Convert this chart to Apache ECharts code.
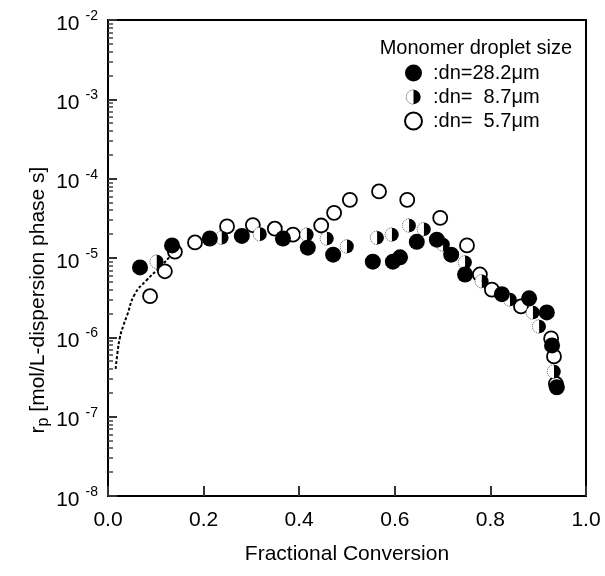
<!DOCTYPE html>
<html>
<head>
<meta charset="utf-8">
<script src="https://cdn.jsdelivr.net/npm/echarts@6/dist/echarts.min.js"></script>
<style>
  html, body { margin: 0; padding: 0; background: #fff; }
  #chart { width: 605px; height: 576px; }
</style>
</head>
<body>
<div id="chart"></div>
<script>
// data: fractional conversion vs rp
const filledX = [0.067, 0.134, 0.213, 0.280, 0.366, 0.418, 0.471, 0.554, 0.596, 0.611, 0.646, 0.688, 0.718, 0.747, 0.824, 0.881, 0.918, 0.929, 0.939];
const filledY = [7.6e-6, 1.44e-5, 1.76e-5, 1.9e-5, 1.76e-5, 1.35e-5, 1.1e-5, 9.0e-6, 9.0e-6, 1.02e-5, 1.6e-5, 1.7e-5, 1.1e-5, 6.2e-6, 3.5e-6, 3.1e-6, 2.06e-6, 7.9e-7, 2.35e-7];

const halfX = [0.102, 0.238, 0.318, 0.416, 0.458, 0.500, 0.563, 0.594, 0.630, 0.661, 0.701, 0.747, 0.782, 0.841, 0.889, 0.902, 0.933];
const halfY = [9.0e-6, 1.8e-5, 2.0e-5, 1.97e-5, 1.76e-5, 1.4e-5, 1.8e-5, 1.97e-5, 2.57e-5, 2.3e-5, 1.48e-5, 8.8e-6, 5.1e-6, 3.0e-6, 2.06e-6, 1.37e-6, 3.7e-7];

const openX = [0.088, 0.119, 0.140, 0.182, 0.249, 0.303, 0.349, 0.387, 0.446, 0.473, 0.506, 0.567, 0.626, 0.695, 0.751, 0.778, 0.803, 0.864, 0.927, 0.933, 0.937];
const openY = [3.3e-6, 6.8e-6, 1.2e-5, 1.57e-5, 2.5e-5, 2.6e-5, 2.34e-5, 1.97e-5, 2.57e-5, 3.7e-5, 5.4e-5, 6.9e-5, 5.4e-5, 3.2e-5, 1.44e-5, 6.2e-6, 4.0e-6, 2.45e-6, 9.7e-7, 5.75e-7, 2.6e-7];

// dashed model curve
const curveX = [0.016, 0.020, 0.025, 0.032, 0.040, 0.056, 0.080, 0.110, 0.130];
const curveY = [4.0e-7, 6.5e-7, 1.0e-6, 1.4e-6, 1.9e-6, 3.5e-6, 5.2e-6, 7.8e-6, 1.05e-5];

const seriesNames = [':dn=28.2\u03bcm', ':dn=  8.7\u03bcm', ':dn=  5.7\u03bcm'];

const zip = (xs, ys) => xs.map((x, i) => [x, ys[i]]);

const halfSvg = "<svg xmlns='http://www.w3.org/2000/svg' width='40' height='40'>" +
  "<path d='M20 3 A17 17 0 0 0 20 37' fill='white' stroke='black' stroke-width='1.4' stroke-dasharray='3 2'/>" +
  "<path d='M20 3 A17 17 0 0 1 20 37 Z' fill='black'/></svg>";
const halfSymbol = 'image://data:image/svg+xml;charset=utf-8,' + encodeURIComponent(halfSvg);

const font = 'Liberation Sans, Arial, sans-serif';

const option = {
  animation: false,
  backgroundColor: '#fff',
  title: {
    text: 'Monomer droplet size',
    right: 28,
    top: 33,
    textStyle: { fontFamily: font, fontSize: 20, fontWeight: 'normal', color: '#000' }
  },
  legend: {
    orient: 'vertical',
    left: 399,
    top: 58,
    itemGap: 4,
    itemWidth: 17,
    itemHeight: 17,
    textStyle: { fontFamily: font, fontSize: 20, color: '#000', padding: [0, 0, 0, 6] },
    data: seriesNames
  },
  graphic: [{
    type: 'text',
    x: 38,
    y: 300,
    rotation: Math.PI / 2,
    style: {
      text: '{t|r}{s|p}{t| [mol/L-dispersion phase s]}',
      align: 'center',
      verticalAlign: 'middle',
      rich: {
        t: { fontFamily: font, fontSize: 21, fill: '#000' },
        s: { fontFamily: font, fontSize: 16, fill: '#000', padding: [12, 0, 0, 0] }
      }
    }
  }],
  grid: { left: 108, top: 20, right: 19, bottom: 80, show: true, borderColor: '#000', borderWidth: 2 },
  xAxis: {
    type: 'value',
    min: 0, max: 1, interval: 0.2,
    name: 'Fractional Conversion',
    nameLocation: 'middle',
    nameGap: 48,
    nameTextStyle: { fontFamily: font, fontSize: 21, color: '#000' },
    axisLine: { show: true, onZero: false, lineStyle: { color: '#000', width: 2 } },
    axisTick: { show: true, inside: true, length: 10, lineStyle: { color: '#333', width: 2 } },
    axisLabel: {
      margin: 14, fontFamily: font, fontSize: 21, color: '#000',
      formatter: v => v.toFixed(1)
    },
    splitLine: { show: false }
  },
  yAxis: {
    type: 'log',
    min: 1e-8, max: 1e-2,
    axisLine: { show: true, onZero: false, lineStyle: { color: '#000', width: 2 } },
    axisTick: { show: true, inside: true, length: 9, lineStyle: { color: '#333', width: 2 } },
    minorTick: { show: true, splitNumber: 9, length: 5, lineStyle: { color: '#444', width: 1.5 } },
    axisLabel: {
      margin: 10,
      formatter: v => '{b|10}{e|' + Math.round(Math.log10(v)) + '}',
      rich: {
        b: { fontFamily: font, fontSize: 21, color: '#000', padding: [8, 6, 0, 0] },
        e: { fontFamily: font, fontSize: 14, color: '#000', padding: [0, 0, 8, 0] }
      }
    },
    splitLine: { show: false }
  },
  series: [
    {
      name: 'curve',
      type: 'line',
      data: zip(curveX, curveY),
      smooth: true,
      showSymbol: false,
      lineStyle: { color: '#000', width: 2, type: [3, 2] },
      z: 1
    },
    {
      name: seriesNames[2],
      type: 'scatter',
      data: zip(openX, openY),
      symbol: 'circle',
      symbolSize: 14,
      itemStyle: { color: '#fff', borderColor: '#000', borderWidth: 1.8, opacity: 1 },
      z: 2
    },
    {
      name: seriesNames[1],
      type: 'scatter',
      data: zip(halfX, halfY),
      symbol: halfSymbol,
      symbolSize: 16,
      itemStyle: { opacity: 1 },
      z: 3
    },
    {
      name: seriesNames[0],
      type: 'scatter',
      data: zip(filledX, filledY),
      symbol: 'circle',
      symbolSize: 16,
      itemStyle: { color: '#000', opacity: 1 },
      z: 4
    }
  ]
};

const myChart = echarts.init(document.getElementById('chart'));
myChart.setOption(option);
</script>
</body>
</html>
